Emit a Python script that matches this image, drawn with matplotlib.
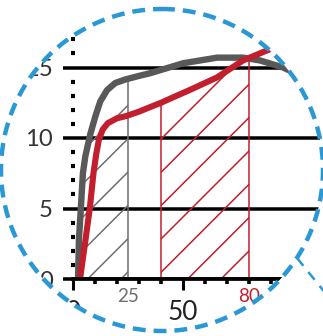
import numpy as np
import matplotlib.pyplot as plt
from matplotlib.patches import PathPatch, Circle
from matplotlib.path import Path
from matplotlib.lines import Line2D
from matplotlib.transforms import Affine2D
from matplotlib.ticker import MultipleLocator, FixedLocator

plt.rcParams['font.family'] = ['Lato', 'DejaVu Sans']
plt.rcParams['hatch.linewidth'] = 0.55

# curves
gray_x = np.array([2.3, 2.7, 3.6, 4.5, 5.6, 7.9, 10.1, 12.4, 15.5, 19.2, 23.8, 29.9, 35.2, 50, 65.5, 77.3, 85, 95.5, 105])
gray_y = np.array([0.0, 2.8, 5.1, 7.5, 8.7, 10.3, 11.5, 12.6, 13.4, 13.9, 14.15, 14.4, 14.6, 15.3, 15.7, 15.7, 15.5, 15.0, 14.3])
red_x = np.array([3.2, 5.7, 7.7, 9.3, 10.6, 11.8, 13.5, 15.8, 20, 24, 30, 35.2, 40, 45, 53, 65.5, 77.3, 88, 98])
red_y = np.array([0.0, 2.8, 5.1, 7.5, 8.9, 9.9, 10.6, 11.05, 11.4, 11.55, 11.87, 12.2, 12.5, 12.85, 13.4, 14.3, 15.5, 16.2, 16.8])

gray_span = (0, 25)
red_span = (40, 80)
y_major = [0, 5, 10, 15]
x_major = [0, 50, 100]
x_minor = [10, 20, 30, 40, 60, 70, 80, 90]

GRAY = '#595959'
HATCH_GRAY = '#6e6e6e'
RED = '#c21e2d'
BLUE = '#2a98d4'

dpi = 200
fig = plt.figure(figsize=(323 / dpi, 336 / dpi), dpi=dpi)
ax = fig.add_axes([73 / 323, 57 / 336, 250 / 323, 279 / 336])
ax.set_xlim(0, 250 / 2.2)
ax.set_ylim(0, 279 / 14.1)
ax.set_axisbelow(True)

# hatched regions under the curves
gx = np.linspace(gray_span[0], gray_span[1], 80)
gy = np.interp(gx, gray_x, gray_y, left=0)
ax.fill_between(gx, 0, gy, facecolor='none', edgecolor=HATCH_GRAY, hatch='//', linewidth=0, zorder=1.5)
ax.vlines(gray_span[1], 0, np.interp(gray_span[1], gray_x, gray_y), color=HATCH_GRAY, lw=0.55, zorder=1.6)

rx = np.linspace(red_span[0], red_span[1], 80)
ry = np.interp(rx, red_x, red_y)
ax.fill_between(rx, 0, ry, facecolor='none', edgecolor=RED, hatch='//', linewidth=0, zorder=1.5)
ax.vlines(red_span, 0, np.interp(red_span, red_x, red_y), color=RED, lw=0.55, zorder=1.6)

ax.plot(gray_x, gray_y, color=GRAY, lw=2.3, solid_capstyle='butt', zorder=3)
ax.plot(red_x, red_y, color=RED, lw=2.2, solid_capstyle='butt', zorder=4)

# axes styling
for s in ['top', 'right', 'left']:
    ax.spines[s].set_visible(False)
ax.spines['bottom'].set_linewidth(1.35)
ax.spines['bottom'].set_zorder(5)

ax.yaxis.set_major_locator(FixedLocator(y_major))
ax.yaxis.set_minor_locator(MultipleLocator(1))
ax.grid(axis='y', which='major', color='black', lw=1.26)
ax.tick_params(axis='y', which='major', direction='out', length=3.6, width=1.26,
               color='black', labelsize=8.6, labelcolor='#333333', pad=3.6)
ax.tick_params(axis='y', which='minor', direction='inout', length=1.5, width=1.5, color='black')

ax.xaxis.set_major_locator(FixedLocator(x_major))
ax.xaxis.set_minor_locator(FixedLocator(x_minor))
ax.tick_params(axis='x', which='major', direction='out', length=4.0, width=1.1,
               color='black', labelsize=9.4, labelcolor='#222222', pad=3.6)
ax.tick_params(axis='x', which='minor', direction='out', length=1.8, width=1.3, color='black')

ax.text(gray_span[1], -1.25, '25', color=HATCH_GRAY, fontsize=6.8, ha='center', va='center')
ax.text(red_span[1], -1.25, '80', color=RED, fontsize=6.8, ha='center', va='center')

# magnifier: white mask outside the circle, dashed rim and connector
px = Affine2D().scale(1 / dpi, -1 / dpi).translate(0, 336 / dpi) + fig.dpi_scale_trans
cx, cy, r = 162, 170, 161
rect = Path([(-10, -10), (-10, 346), (333, 346), (333, -10), (-10, -10)], closed=True)
mask = Path.make_compound_path(rect, Path.circle((cx, cy), r))
fig.add_artist(PathPatch(mask, facecolor='white', edgecolor='none', transform=px, zorder=10))
fig.add_artist(Circle((cx, cy), r, fill=False, edgecolor=BLUE, lw=1.6,
                      linestyle=(0, (2.9, 1.8)), transform=px, zorder=11))
fig.add_artist(Line2D([297, 335], [258, 305], color=BLUE, lw=0.9,
                      linestyle=(0, (4, 3.2)), transform=px, zorder=11))

fig.savefig('out.png', dpi=dpi)
